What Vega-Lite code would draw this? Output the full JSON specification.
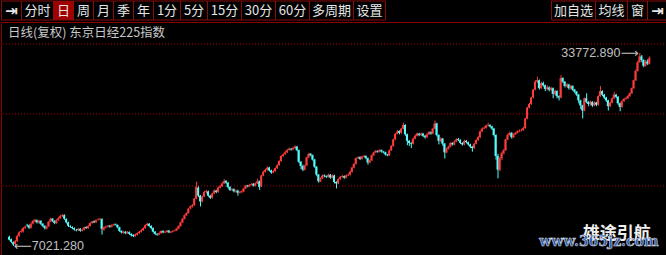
{
"$schema": "https://vega.github.io/schema/vega-lite/v6.json",
"background": "#000000",
"padding": 0,
"spacing": 0,
"config": {"view": {"stroke": null}},
"vconcat": [
{
"width": 666, "height": 19,
"data": {"values": [
{"label":"⇥","side":"L","k":0},{"label":"分时","side":"L","k":1},{"label":"日","side":"L","k":2},{"label":"周","side":"L","k":3},{"label":"月","side":"L","k":4},{"label":"季","side":"L","k":5},{"label":"年","side":"L","k":6},{"label":"1分","side":"L","k":7},{"label":"5分","side":"L","k":8},{"label":"15分","side":"L","k":9},{"label":"30分","side":"L","k":10},{"label":"60分","side":"L","k":11},{"label":"多周期","side":"L","k":12},{"label":"设置","side":"L","k":13},
{"label":"加自选","side":"R","k":14},{"label":"均线","side":"R","k":15},{"label":"窗","side":"R","k":16},{"label":"⇥","side":"R","k":17}
]},
"transform": [
{"calculate": "length(replace(datum.label, regexp('[0-9]','g'), ''))", "as": "nc"},
{"calculate": "length(datum.label) - datum.nc", "as": "nd"},
{"calculate": "8 + 12*datum.nc + 7*datum.nd", "as": "w"},
{"calculate": "datum.side == 'L' ? datum.k : -datum.k", "as": "ord"},
{"window": [{"op": "sum", "field": "w", "as": "cum"}], "groupby": ["side"], "sort": [{"field": "ord"}], "frame": [null, 0]},
{"calculate": "datum.side == 'L' ? datum.cum - datum.w : 666 - datum.cum", "as": "x0"},
{"calculate": "datum.x0 + datum.w", "as": "x1"},
{"calculate": "(datum.x0 + datum.x1) / 2", "as": "xm"}
],
"layer": [
{"mark": {"type": "rect", "stroke": "#8c0a0a", "strokeWidth": 1},
 "encoding": {
  "x": {"field": "x0", "type": "quantitative", "scale": {"domain": [-0.5, 665.5], "nice": false, "zero": false}, "axis": null},
  "x2": {"field": "x1"},
  "fill": {"condition": {"test": "datum.label == '日'", "value": "#a00000"}, "value": "#000000"}}},
{"transform": [{"filter": "datum.label != '⇥'"}],
 "mark": {"type": "text", "font": "Noto Sans CJK SC", "fontSize": 13, "color": "#e6e6e6", "align": "center", "baseline": "middle"},
 "encoding": {"x": {"field": "xm", "type": "quantitative"}, "text": {"field": "label"}}},
{"transform": [{"filter": "datum.label == '⇥'"}],
 "mark": {"type": "text", "font": "DejaVu Sans", "fontSize": 15, "fontWeight": "bold", "color": "#e6e6e6", "align": "center", "baseline": "middle"},
 "encoding": {"x": {"field": "xm", "type": "quantitative"}, "text": {"field": "label"}}}
]
},
{
"width": 666, "height": 234,
"view": {"stroke": "#8b0000", "strokeWidth": 1},
"data": {"values": [
{"i":0,"o":8300,"h":8450,"l":7800,"c":7900},{"i":1,"o":7950,"h":8050,"l":7450,"c":7600},{"i":2,"o":7550,"h":7650,"l":7021.28,"c":7250},{"i":3,"o":7300,"h":7850,"l":7150,"c":7700},{"i":4,"o":7700,"h":8550,"l":7600,"c":8400},
{"i":5,"o":8450,"h":9050,"l":8300,"c":8900},{"i":6,"o":9000,"h":9300,"l":8850,"c":9100},{"i":7,"o":9050,"h":9650,"l":8900,"c":9500},{"i":8,"o":9550,"h":9850,"l":9400,"c":9700},{"i":9,"o":9950,"h":10100,"l":9700,"c":9900},
{"i":10,"o":9900,"h":10000,"l":9400,"c":9550},{"i":11,"o":9550,"h":10250,"l":9450,"c":10100},{"i":12,"o":10150,"h":10650,"l":10000,"c":10500},{"i":13,"o":10450,"h":10800,"l":10300,"c":10650},{"i":14,"o":10600,"h":10700,"l":10150,"c":10300},
{"i":15,"o":10300,"h":10650,"l":10150,"c":10500},{"i":16,"o":10500,"h":10600,"l":9950,"c":10100},{"i":17,"o":10100,"h":10200,"l":9650,"c":9800},{"i":18,"o":9800,"h":9900,"l":9300,"c":9500},{"i":19,"o":9450,"h":9850,"l":9350,"c":9700},
{"i":20,"o":9750,"h":10500,"l":9650,"c":10400},{"i":21,"o":10400,"h":10950,"l":10300,"c":10800},{"i":22,"o":10800,"h":10900,"l":10350,"c":10500},{"i":23,"o":10500,"h":10600,"l":10050,"c":10200},{"i":24,"o":10200,"h":10750,"l":10100,"c":10600},
{"i":25,"o":10650,"h":11050,"l":10500,"c":10900},{"i":26,"o":10900,"h":11350,"l":10800,"c":11200},{"i":27,"o":11200,"h":11450,"l":11050,"c":11300},{"i":28,"o":11300,"h":11400,"l":10650,"c":10800},{"i":29,"o":10750,"h":10850,"l":10150,"c":10300},
{"i":30,"o":10300,"h":10400,"l":9650,"c":9800},{"i":31,"o":9800,"h":9900,"l":9550,"c":9700},{"i":32,"o":9650,"h":9750,"l":9350,"c":9500},{"i":33,"o":9500,"h":9600,"l":9150,"c":9300},{"i":34,"o":9250,"h":9400,"l":9050,"c":9200},
{"i":35,"o":9200,"h":9500,"l":9100,"c":9400},{"i":36,"o":9400,"h":9500,"l":9000,"c":9150},{"i":37,"o":9150,"h":9450,"l":9050,"c":9300},{"i":38,"o":9300,"h":9700,"l":9200,"c":9600},{"i":39,"o":9650,"h":9750,"l":9400,"c":9500},
{"i":40,"o":9500,"h":9900,"l":9400,"c":9800},{"i":41,"o":9800,"h":10300,"l":9700,"c":10200},{"i":42,"o":10200,"h":10500,"l":10100,"c":10400},{"i":43,"o":10450,"h":10550,"l":10200,"c":10300},{"i":44,"o":10300,"h":10700,"l":10200,"c":10600},
{"i":45,"o":10650,"h":10850,"l":10550,"c":10700},{"i":46,"o":10700,"h":10900,"l":10600,"c":10800},{"i":47,"o":10750,"h":10850,"l":8600,"c":9400},{"i":48,"o":9300,"h":9750,"l":9150,"c":9600},{"i":49,"o":9600,"h":9850,"l":9450,"c":9700},
{"i":50,"o":9750,"h":9950,"l":9600,"c":9800},{"i":51,"o":9850,"h":9950,"l":9550,"c":9700},{"i":52,"o":9700,"h":10050,"l":9600,"c":9900},{"i":53,"o":9900,"h":10150,"l":9800,"c":10000},{"i":54,"o":10050,"h":10150,"l":9850,"c":9950},
{"i":55,"o":9950,"h":10000,"l":9450,"c":9600},{"i":56,"o":9600,"h":9700,"l":8950,"c":9100},{"i":57,"o":9100,"h":9200,"l":8750,"c":8900},{"i":58,"o":8850,"h":9150,"l":8750,"c":9000},{"i":59,"o":9000,"h":9100,"l":8650,"c":8800},
{"i":60,"o":8800,"h":9100,"l":8700,"c":8950},{"i":61,"o":8950,"h":9050,"l":8550,"c":8700},{"i":62,"o":8700,"h":8800,"l":8350,"c":8500},{"i":63,"o":8550,"h":8650,"l":8250,"c":8400},{"i":64,"o":8400,"h":8750,"l":8300,"c":8600},
{"i":65,"o":8600,"h":8900,"l":8500,"c":8800},{"i":66,"o":8800,"h":9100,"l":8700,"c":9000},{"i":67,"o":9000,"h":9350,"l":8900,"c":9200},{"i":68,"o":9200,"h":9600,"l":9100,"c":9500},{"i":69,"o":9500,"h":10000,"l":9400,"c":9900},
{"i":70,"o":9900,"h":10250,"l":9800,"c":10100},{"i":71,"o":10100,"h":10200,"l":9700,"c":9800},{"i":72,"o":9800,"h":9900,"l":9350,"c":9500},{"i":73,"o":9500,"h":9600,"l":8900,"c":9000},{"i":74,"o":9000,"h":9100,"l":8550,"c":8700},
{"i":75,"o":8700,"h":8800,"l":8450,"c":8600},{"i":76,"o":8600,"h":8900,"l":8500,"c":8800},{"i":77,"o":8800,"h":9200,"l":8700,"c":9100},{"i":78,"o":9100,"h":9200,"l":8800,"c":8900},{"i":79,"o":8900,"h":9100,"l":8800,"c":9000},
{"i":80,"o":9000,"h":9250,"l":8900,"c":9150},{"i":81,"o":9150,"h":9250,"l":8800,"c":8900},{"i":82,"o":8900,"h":9100,"l":8800,"c":9000},{"i":83,"o":9000,"h":9200,"l":8900,"c":9100},{"i":84,"o":9150,"h":9300,"l":9050,"c":9200},
{"i":85,"o":9200,"h":9550,"l":9100,"c":9450},{"i":86,"o":9450,"h":9900,"l":9350,"c":9800},{"i":87,"o":9800,"h":10400,"l":9700,"c":10300},{"i":88,"o":10300,"h":10900,"l":10200,"c":10800},{"i":89,"o":10800,"h":11400,"l":10700,"c":11300},
{"i":90,"o":11300,"h":11700,"l":11200,"c":11600},{"i":91,"o":11600,"h":12300,"l":11500,"c":12200},{"i":92,"o":12250,"h":12650,"l":12100,"c":12500},{"i":93,"o":12500,"h":12850,"l":12350,"c":12700},{"i":94,"o":12700,"h":13700,"l":12600,"c":13600},
{"i":95,"o":13600,"h":15940,"l":13500,"c":15200},{"i":96,"o":15100,"h":15300,"l":13800,"c":14000},{"i":97,"o":14000,"h":14100,"l":12500,"c":13200},{"i":98,"o":13200,"h":14000,"l":13100,"c":13900},{"i":99,"o":13900,"h":14700,"l":13800,"c":14500},
{"i":100,"o":14500,"h":14800,"l":14300,"c":14600},{"i":101,"o":14600,"h":14700,"l":13850,"c":14000},{"i":102,"o":14000,"h":14100,"l":13550,"c":13700},{"i":103,"o":13700,"h":14400,"l":13600,"c":14300},{"i":104,"o":14300,"h":14850,"l":14200,"c":14700},
{"i":105,"o":14700,"h":14800,"l":14350,"c":14500},{"i":106,"o":14500,"h":15250,"l":14400,"c":15100},{"i":107,"o":15100,"h":15450,"l":15000,"c":15300},{"i":108,"o":15300,"h":15850,"l":15200,"c":15700},{"i":109,"o":15700,"h":16300,"l":15600,"c":16000},
{"i":110,"o":16050,"h":16150,"l":15650,"c":15800},{"i":111,"o":15800,"h":15900,"l":15000,"c":15200},{"i":112,"o":15200,"h":15300,"l":14650,"c":14800},{"i":113,"o":14800,"h":15050,"l":14700,"c":14900},{"i":114,"o":14900,"h":15000,"l":14450,"c":14600},
{"i":115,"o":14600,"h":14850,"l":14450,"c":14700},{"i":116,"o":14700,"h":14800,"l":14000,"c":14400},{"i":117,"o":14400,"h":14650,"l":14300,"c":14500},{"i":118,"o":14500,"h":14750,"l":14350,"c":14600},{"i":119,"o":14600,"h":15100,"l":14500,"c":15000},
{"i":120,"o":15000,"h":15500,"l":14900,"c":15400},{"i":121,"o":15400,"h":15500,"l":15150,"c":15300},{"i":122,"o":15300,"h":15650,"l":15200,"c":15500},{"i":123,"o":15500,"h":15750,"l":15400,"c":15600},{"i":124,"o":15650,"h":15750,"l":15250,"c":15400},
{"i":125,"o":15400,"h":15850,"l":15300,"c":15700},{"i":126,"o":15700,"h":16350,"l":15600,"c":16000},{"i":127,"o":16000,"h":16100,"l":14800,"c":15200},{"i":128,"o":15300,"h":16900,"l":15200,"c":16800},{"i":129,"o":16800,"h":17450,"l":16700,"c":17300},
{"i":130,"o":17300,"h":17750,"l":17200,"c":17600},{"i":131,"o":17600,"h":18050,"l":17450,"c":17900},{"i":132,"o":17900,"h":18000,"l":17350,"c":17500},{"i":133,"o":17500,"h":17600,"l":17050,"c":17200},{"i":134,"o":17200,"h":17550,"l":17100,"c":17400},
{"i":135,"o":17400,"h":17900,"l":17300,"c":17800},{"i":136,"o":17800,"h":18350,"l":17700,"c":18200},{"i":137,"o":18250,"h":18900,"l":18150,"c":18800},{"i":138,"o":18800,"h":19600,"l":18700,"c":19500},{"i":139,"o":19500,"h":19850,"l":19400,"c":19700},
{"i":140,"o":19750,"h":20150,"l":19650,"c":20000},{"i":141,"o":20000,"h":20450,"l":19900,"c":20300},{"i":142,"o":20350,"h":20650,"l":20250,"c":20500},{"i":143,"o":20500,"h":20600,"l":20250,"c":20400},{"i":144,"o":20400,"h":20750,"l":20300,"c":20600},
{"i":145,"o":20600,"h":20950,"l":20500,"c":20800},{"i":146,"o":20800,"h":20900,"l":20150,"c":20300},{"i":147,"o":20300,"h":20400,"l":18500,"c":18700},{"i":148,"o":18700,"h":18800,"l":17700,"c":18100},{"i":149,"o":18100,"h":18300,"l":17400,"c":17600},
{"i":150,"o":17600,"h":18300,"l":17500,"c":18200},{"i":151,"o":18200,"h":19400,"l":18100,"c":19300},{"i":152,"o":19300,"h":19950,"l":19200,"c":19800},{"i":153,"o":19800,"h":19900,"l":19450,"c":19600},{"i":154,"o":19600,"h":19700,"l":18850,"c":19000},
{"i":155,"o":19000,"h":19100,"l":17850,"c":18000},{"i":156,"o":18000,"h":18100,"l":16700,"c":16900},{"i":157,"o":16900,"h":17000,"l":15800,"c":16000},{"i":158,"o":16000,"h":16550,"l":15900,"c":16400},{"i":159,"o":16400,"h":16950,"l":16300,"c":16800},
{"i":160,"o":16800,"h":16950,"l":16550,"c":16700},{"i":161,"o":16700,"h":16800,"l":16450,"c":16600},{"i":162,"o":16600,"h":17050,"l":16500,"c":16900},{"i":163,"o":16900,"h":17000,"l":16350,"c":16500},{"i":164,"o":16500,"h":16950,"l":16400,"c":16800},
{"i":165,"o":16800,"h":16900,"l":15700,"c":15900},{"i":166,"o":15900,"h":16000,"l":15000,"c":15700},{"i":167,"o":15700,"h":16400,"l":15600,"c":16300},{"i":168,"o":16300,"h":16750,"l":16200,"c":16600},{"i":169,"o":16600,"h":16850,"l":16500,"c":16700},
{"i":170,"o":16700,"h":16800,"l":16350,"c":16500},{"i":171,"o":16500,"h":16950,"l":16400,"c":16800},{"i":172,"o":16800,"h":17050,"l":16700,"c":16900},{"i":173,"o":16900,"h":17450,"l":16800,"c":17300},{"i":174,"o":17300,"h":18000,"l":17200,"c":17900},
{"i":175,"o":17900,"h":18500,"l":17800,"c":18400},{"i":176,"o":18400,"h":19300,"l":18300,"c":19200},{"i":177,"o":19200,"h":19450,"l":19100,"c":19300},{"i":178,"o":19350,"h":19450,"l":18950,"c":19100},{"i":179,"o":19100,"h":19550,"l":19000,"c":19400},
{"i":180,"o":19400,"h":19650,"l":19300,"c":19500},{"i":181,"o":19500,"h":19600,"l":19050,"c":19200},{"i":182,"o":19200,"h":19300,"l":18300,"c":18600},{"i":183,"o":18600,"h":19050,"l":18500,"c":18900},{"i":184,"o":18900,"h":19700,"l":18800,"c":19600},
{"i":185,"o":19600,"h":20100,"l":19500,"c":20000},{"i":186,"o":20000,"h":20350,"l":19900,"c":20200},{"i":187,"o":20200,"h":20300,"l":19950,"c":20100},{"i":188,"o":20100,"h":20450,"l":20000,"c":20300},{"i":189,"o":20300,"h":20400,"l":19950,"c":20100},
{"i":190,"o":20100,"h":20200,"l":19850,"c":20000},{"i":191,"o":20000,"h":20100,"l":19550,"c":19700},{"i":192,"o":19700,"h":19800,"l":19450,"c":19600},{"i":193,"o":19600,"h":20400,"l":19500,"c":20300},{"i":194,"o":20300,"h":21000,"l":20200,"c":20900},
{"i":195,"o":20900,"h":21900,"l":20800,"c":21800},{"i":196,"o":21800,"h":22700,"l":21700,"c":22600},{"i":197,"o":22600,"h":23100,"l":22500,"c":22900},{"i":198,"o":22950,"h":23050,"l":22500,"c":22700},{"i":199,"o":22700,"h":23400,"l":22600,"c":23300},
{"i":200,"o":23300,"h":24100,"l":23200,"c":23800},{"i":201,"o":23800,"h":23900,"l":22300,"c":22500},{"i":202,"o":22500,"h":22600,"l":21000,"c":21600},{"i":203,"o":21600,"h":21700,"l":20900,"c":21300},{"i":204,"o":21300,"h":21450,"l":20600,"c":21200},
{"i":205,"o":21200,"h":22000,"l":21100,"c":21900},{"i":206,"o":21900,"h":22450,"l":21800,"c":22300},{"i":207,"o":22300,"h":22750,"l":22200,"c":22600},{"i":208,"o":22600,"h":22700,"l":22250,"c":22400},{"i":209,"o":22400,"h":22750,"l":22300,"c":22600},
{"i":210,"o":22600,"h":22700,"l":22150,"c":22300},{"i":211,"o":22300,"h":22400,"l":21900,"c":22100},{"i":212,"o":22100,"h":22650,"l":22000,"c":22500},{"i":213,"o":22500,"h":22950,"l":22400,"c":22800},{"i":214,"o":22800,"h":22900,"l":22450,"c":22600},
{"i":215,"o":22600,"h":23400,"l":22500,"c":23300},{"i":216,"o":23300,"h":24400,"l":23200,"c":24000},{"i":217,"o":24000,"h":24100,"l":22200,"c":22400},{"i":218,"o":22400,"h":22500,"l":21100,"c":21600},{"i":219,"o":21600,"h":22100,"l":21400,"c":21900},
{"i":220,"o":21900,"h":22000,"l":20900,"c":21200},{"i":221,"o":21200,"h":21300,"l":19150,"c":20000},{"i":222,"o":20000,"h":20650,"l":19900,"c":20500},{"i":223,"o":20500,"h":20950,"l":20400,"c":20800},{"i":224,"o":20800,"h":21450,"l":20700,"c":21300},
{"i":225,"o":21300,"h":21400,"l":20950,"c":21100},{"i":226,"o":21100,"h":21650,"l":21000,"c":21500},{"i":227,"o":21500,"h":21950,"l":21400,"c":21800},{"i":228,"o":21850,"h":22000,"l":21550,"c":21700},{"i":229,"o":21700,"h":21800,"l":21150,"c":21300},
{"i":230,"o":21300,"h":21400,"l":20950,"c":21100},{"i":231,"o":21100,"h":21750,"l":21000,"c":21600},{"i":232,"o":21600,"h":21700,"l":21250,"c":21400},{"i":233,"o":21400,"h":21500,"l":20950,"c":21100},{"i":234,"o":21100,"h":21200,"l":20600,"c":20800},
{"i":235,"o":20800,"h":20900,"l":20100,"c":20600},{"i":236,"o":20600,"h":21300,"l":20500,"c":21200},{"i":237,"o":21200,"h":21800,"l":21100,"c":21700},{"i":238,"o":21700,"h":22250,"l":21600,"c":22100},{"i":239,"o":22100,"h":23000,"l":22000,"c":22900},
{"i":240,"o":22900,"h":23450,"l":22800,"c":23300},{"i":241,"o":23300,"h":23600,"l":23200,"c":23400},{"i":242,"o":23400,"h":23850,"l":23300,"c":23700},{"i":243,"o":23700,"h":24100,"l":23600,"c":23800},{"i":244,"o":23800,"h":23900,"l":23450,"c":23600},
{"i":245,"o":23600,"h":23700,"l":23100,"c":23300},{"i":246,"o":23300,"h":23400,"l":22200,"c":22400},{"i":247,"o":22400,"h":22500,"l":19000,"c":19500},{"i":248,"o":19500,"h":19800,"l":16400,"c":17600},{"i":249,"o":17600,"h":19400,"l":17400,"c":19200},
{"i":250,"o":19200,"h":20100,"l":18900,"c":19900},{"i":251,"o":19900,"h":20500,"l":19700,"c":20300},{"i":252,"o":20300,"h":21900,"l":20200,"c":21800},{"i":253,"o":21800,"h":22600,"l":21700,"c":22400},{"i":254,"o":22400,"h":22900,"l":22300,"c":22700},
{"i":255,"o":22700,"h":22800,"l":21900,"c":22100},{"i":256,"o":22100,"h":22650,"l":22000,"c":22500},{"i":257,"o":22500,"h":22850,"l":22400,"c":22700},{"i":258,"o":22700,"h":23050,"l":22600,"c":22900},{"i":259,"o":22900,"h":23200,"l":22800,"c":23000},
{"i":260,"o":23050,"h":23300,"l":22900,"c":23100},{"i":261,"o":23100,"h":23550,"l":23000,"c":23400},{"i":262,"o":23400,"h":24800,"l":23300,"c":24700},{"i":263,"o":24700,"h":26300,"l":24600,"c":26200},{"i":264,"o":26200,"h":26850,"l":26100,"c":26700},
{"i":265,"o":26700,"h":27700,"l":26600,"c":27600},{"i":266,"o":27600,"h":28800,"l":27500,"c":28700},{"i":267,"o":28700,"h":30000,"l":28600,"c":29800},{"i":268,"o":29800,"h":30500,"l":29600,"c":30000},{"i":269,"o":30000,"h":30100,"l":28700,"c":28900},
{"i":270,"o":28900,"h":29800,"l":28800,"c":29600},{"i":271,"o":29600,"h":29800,"l":29100,"c":29300},{"i":272,"o":29300,"h":29400,"l":28500,"c":28800},{"i":273,"o":28800,"h":29300,"l":28600,"c":29000},{"i":274,"o":29000,"h":29150,"l":28450,"c":28700},
{"i":275,"o":28700,"h":29100,"l":28500,"c":28900},{"i":276,"o":28900,"h":29000,"l":27500,"c":28100},{"i":277,"o":28100,"h":28700,"l":27900,"c":28500},{"i":278,"o":28500,"h":28600,"l":27500,"c":27800},{"i":279,"o":27800,"h":27900,"l":27200,"c":27600},
{"i":280,"o":27600,"h":30700,"l":27500,"c":30300},{"i":281,"o":30300,"h":30400,"l":29600,"c":29800},{"i":282,"o":29800,"h":29900,"l":29000,"c":29200},{"i":283,"o":29200,"h":29600,"l":29000,"c":29400},{"i":284,"o":29400,"h":29500,"l":28700,"c":28900},
{"i":285,"o":28900,"h":29350,"l":28700,"c":29200},{"i":286,"o":29200,"h":29300,"l":28500,"c":28700},{"i":287,"o":28700,"h":28800,"l":28200,"c":28400},{"i":288,"o":28400,"h":28500,"l":27800,"c":28000},{"i":289,"o":28000,"h":28100,"l":26800,"c":27200},
{"i":290,"o":27200,"h":27300,"l":26000,"c":26500},{"i":291,"o":26500,"h":26600,"l":24700,"c":25800},{"i":292,"o":25800,"h":27600,"l":25700,"c":27500},{"i":293,"o":27500,"h":28200,"l":26800,"c":27000},{"i":294,"o":27000,"h":27100,"l":26400,"c":26700},
{"i":295,"o":26700,"h":27200,"l":26500,"c":27000},{"i":296,"o":27000,"h":27100,"l":26300,"c":26500},{"i":297,"o":26500,"h":27050,"l":26400,"c":26900},{"i":298,"o":26900,"h":27000,"l":26400,"c":26600},{"i":299,"o":26600,"h":27900,"l":26500,"c":27800},
{"i":300,"o":27800,"h":29200,"l":27700,"c":28500},{"i":301,"o":28500,"h":28600,"l":27800,"c":28000},{"i":302,"o":28000,"h":28100,"l":27400,"c":27600},{"i":303,"o":27600,"h":27700,"l":27000,"c":27200},{"i":304,"o":27200,"h":27300,"l":25800,"c":26400},
{"i":305,"o":26400,"h":27050,"l":26300,"c":26900},{"i":306,"o":26900,"h":27600,"l":26800,"c":27500},{"i":307,"o":27500,"h":28400,"l":27400,"c":28000},{"i":308,"o":28000,"h":28100,"l":27500,"c":27700},{"i":309,"o":27700,"h":27800,"l":26600,"c":26800},
{"i":310,"o":26800,"h":26900,"l":25700,"c":26300},{"i":311,"o":26300,"h":27200,"l":26200,"c":27100},{"i":312,"o":27100,"h":27550,"l":27000,"c":27400},{"i":313,"o":27400,"h":27650,"l":27300,"c":27500},{"i":314,"o":27500,"h":27950,"l":27400,"c":27800},
{"i":315,"o":27800,"h":28300,"l":27700,"c":28200},{"i":316,"o":28200,"h":29000,"l":28100,"c":28900},{"i":317,"o":28900,"h":30100,"l":28800,"c":30000},{"i":318,"o":30000,"h":31500,"l":29900,"c":31300},{"i":319,"o":31300,"h":32700,"l":31200,"c":32500},
{"i":320,"o":32500,"h":33772.89,"l":32400,"c":33300},{"i":321,"o":33300,"h":33500,"l":32500,"c":32800},{"i":322,"o":32800,"h":32900,"l":31800,"c":32000},{"i":323,"o":32000,"h":32800,"l":31900,"c":32600},{"i":324,"o":32600,"h":32900,"l":32100,"c":32300},
{"i":325,"o":32300,"h":33300,"l":32200,"c":33100}
]},
"layer": [
{"data": {"values": [{"g":35020},{"g":25320},{"g":15340}]},
 "mark": {"type": "rule", "color": "#b00000", "strokeDash": [1,2], "strokeWidth": 1},
 "encoding": {"y": {"field": "g", "type": "quantitative", "scale": {"domain": [5637, 38070], "nice": false, "zero": false}, "axis": null}}},
{"mark": {"type": "rule", "strokeWidth": 1, "xOffset": 0.5},
 "encoding": {
  "x": {"field": "i", "type": "quantitative", "scale": {"domain": [-1.5, 331.5], "nice": false, "zero": false}, "axis": null},
  "y": {"field": "l", "type": "quantitative", "scale": {"domain": [5637, 38070], "nice": false, "zero": false}, "axis": null},
  "y2": {"field": "h"},
  "color": {"condition": {"test": "datum.c >= datum.o", "value": "#ff3c3c"}, "value": "#54fcfc"}}},
{"mark": {"type": "bar", "size": 2},
 "encoding": {
  "x": {"field": "i", "type": "quantitative"},
  "y": {"field": "o", "type": "quantitative"},
  "y2": {"field": "c"},
  "color": {"condition": {"test": "datum.c >= datum.o", "value": "#ff3c3c"}, "value": "#54fcfc"}}},
{"data": {"values": [{"t": "日线(复权) 东京日经225指数"}]},
 "mark": {"type": "text", "align": "left", "baseline": "middle", "dx": 2, "dy": 11, "font": "Noto Sans CJK SC", "fontSize": 12.5, "color": "#c8c8c8"},
 "encoding": {"x": {"datum": -1.5, "type": "quantitative"}, "y": {"datum": 38070, "type": "quantitative"}, "text": {"field": "t"}}},
{"transform": [{"joinaggregate": [{"op": "min", "field": "l", "as": "mn"}]}, {"filter": "datum.l == datum.mn"}, {"calculate": "'⟵' + format(datum.l, '.3f')", "as": "lab"}],
 "mark": {"type": "text", "align": "left", "baseline": "middle", "dx": 1, "font": "Liberation Sans, DejaVu Sans", "fontSize": 12.5, "color": "#c0c0c0"},
 "encoding": {"x": {"field": "i", "type": "quantitative"}, "y": {"field": "l", "type": "quantitative"}, "text": {"field": "lab"}}},
{"transform": [{"joinaggregate": [{"op": "max", "field": "h", "as": "mx"}]}, {"filter": "datum.h == datum.mx"}, {"calculate": "format(datum.h, '.3f') + '⟶'", "as": "lab"}],
 "mark": {"type": "text", "align": "right", "baseline": "middle", "dx": -1, "font": "Liberation Sans, DejaVu Sans", "fontSize": 12.5, "color": "#c0c0c0"},
 "encoding": {"x": {"field": "i", "type": "quantitative"}, "y": {"field": "h", "type": "quantitative"}, "text": {"field": "lab"}}},
{"data": {"values": [{"t": "雄途引航"}]},
 "mark": {"type": "text", "align": "center", "baseline": "middle", "font": "Noto Sans CJK SC", "fontSize": 17, "fontWeight": "bold", "color": "#f0f0f0"},
 "encoding": {"x": {"datum": 308.5, "type": "quantitative"}, "y": {"datum": 8690, "type": "quantitative"}, "text": {"field": "t"}}},
{"data": {"values": [{"t": "www.365jz.com"}]},
 "mark": {"type": "text", "align": "center", "baseline": "middle", "font": "DejaVu Serif", "fontSize": 14, "fontWeight": "bold", "fill": "#2a58a8", "stroke": "#ffffff", "strokeWidth": 0.6, "strokeOpacity": 0.8},
 "encoding": {"x": {"datum": 299.5, "type": "quantitative"}, "y": {"datum": 7580, "type": "quantitative"}, "text": {"field": "t"}}}
]
}
]
}
